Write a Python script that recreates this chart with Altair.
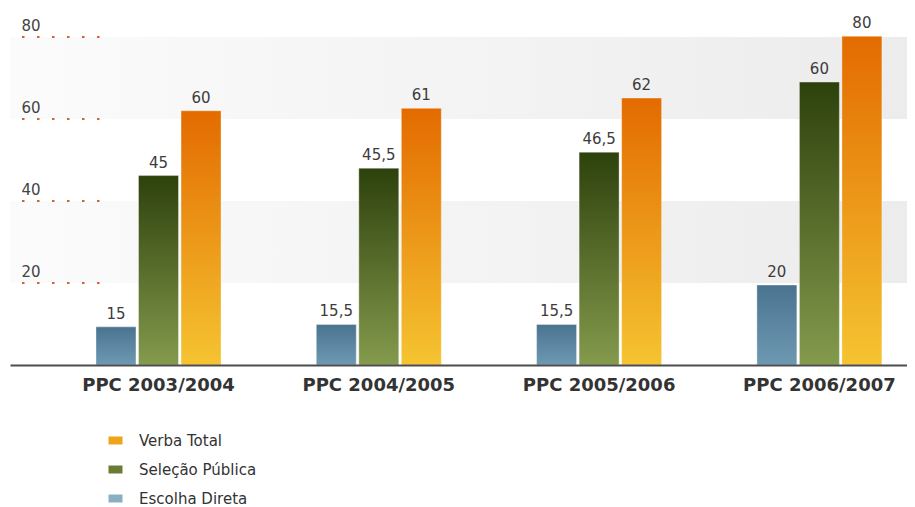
import altair as alt
import pandas as pd

# ---- data -------------------------------------------------------------
periodos = ["PPC 2003/2004", "PPC 2004/2005", "PPC 2005/2006", "PPC 2006/2007"]
series = ["Escolha Direta", "Seleção Pública", "Verba Total"]
legend_order = ["Verba Total", "Seleção Pública", "Escolha Direta"]
legend_colors = ["#f0a418", "#6a7b34", "#8aafc2"]

# heights of the drawn bars (axis units)
escolha_altura = [9.3, 9.9, 9.9, 19.5]
selecao_altura = [46.2, 48.0, 51.9, 69.0]
verba_altura = [62.0, 62.6, 65.1, 80.2]

# value labels printed above the bars
escolha_rotulo = ["15", "15,5", "15,5", "20"]
selecao_rotulo = ["45", "45,5", "46,5", "60"]
verba_rotulo = ["60", "61", "62", "80"]

eixo_y = [20, 40, 60, 80]
faixa_inicio = [20, 60]
faixa_fim = [40, 80]

# ---- tables -------------------------------------------------------------
rows = []
for serie, alturas, rotulos in [
    ("Escolha Direta", escolha_altura, escolha_rotulo),
    ("Seleção Pública", selecao_altura, selecao_rotulo),
    ("Verba Total", verba_altura, verba_rotulo),
]:
    for p, a, r in zip(periodos, alturas, rotulos):
        rows.append({"periodo": p, "serie": serie, "altura": a, "rotulo": r})
df = pd.DataFrame(rows)
bands = pd.DataFrame({"lo": faixa_inicio, "hi": faixa_fim})
ticks = pd.DataFrame({"v": eixo_y})

W, H = 897, 328
FONT = "DejaVu Sans"

yscale = alt.Scale(domain=[0, 80], nice=False, zero=True)
xscale = alt.Scale(domain=periodos, paddingInner=0.4326, paddingOuter=0.2522, align=0.774)
xoff = alt.XOffset("serie:N", scale=alt.Scale(domain=series, paddingInner=0.06, paddingOuter=0))

x_enc = alt.X(
    "periodo:N",
    sort=periodos,
    scale=xscale,
    axis=alt.Axis(
        title=None, labelAngle=0, ticks=False, tickSize=0, grid=False,
        domainColor="#4d4d4d", domainWidth=2,
        labelFont=FONT, labelFontSize=18, labelFontWeight="bold",
        labelColor="#333333", labelPadding=11, zindex=1,
    ),
)
y_axis = alt.Axis(
    values=eixo_y, title=None, grid=False, domain=False, ticks=False,
    tickSize=0, labelAlign="left", labelPadding=-11,
    labelBaseline="alphabetic", labelOffset=-7,
    labelFont=FONT, labelFontSize=15, labelColor="#444444", zindex=2,
)
y_enc = alt.Y("altura:Q", scale=yscale, axis=y_axis)


def vgrad(top, bottom):
    return alt.Gradient(
        gradient="linear", x1=0, y1=0, x2=0, y2=1,
        stops=[alt.GradientStop(color=top, offset=0),
               alt.GradientStop(color=bottom, offset=1)],
    )


band_layer = alt.Chart(bands).mark_rect(
    color=alt.Gradient(
        gradient="linear", x1=0, y1=0, x2=1, y2=0,
        stops=[alt.GradientStop(color="#fbfbfb", offset=0),
               alt.GradientStop(color="#ececec", offset=1)],
    )
).encode(
    y=alt.Y("lo:Q", scale=yscale, axis=y_axis),
    y2="hi:Q",
    x=alt.value(0),
    x2=alt.value(W),
)

rule_layer = alt.Chart(ticks).mark_rule(
    color="#d4622a", strokeDash=[2.5, 12.5], strokeWidth=2
).encode(
    y=alt.Y("v:Q", scale=yscale, axis=y_axis),
    x=alt.value(12),
    x2=alt.value(92),
)

grads = {
    "Escolha Direta": vgrad("#4a7390", "#6e99b2"),
    "Seleção Pública": vgrad("#2d410c", "#849a4c"),
    "Verba Total": vgrad("#e36b00", "#f5c431"),
}

bar_layers = []
for s in series:
    bar_layers.append(
        alt.Chart(df).transform_filter(alt.datum.serie == s).mark_bar(
            color=grads[s], stroke="#ffffff", strokeOpacity=0.35, strokeWidth=1
        ).encode(x=x_enc, xOffset=xoff, y=y_enc)
    )

text_layer = alt.Chart(df).mark_text(
    dy=-8, baseline="alphabetic", font=FONT, fontSize=15, color="#3c3c3c"
).encode(x=x_enc, xOffset=xoff, y=y_enc, text="rotulo:N")

legend_layer = alt.Chart(df).transform_filter("false").mark_point(
    filled=True, opacity=1
).encode(
    x=x_enc,
    y=y_enc,
    color=alt.Color(
        "serie:N",
        scale=alt.Scale(domain=legend_order, range=legend_colors),
        legend=alt.Legend(
            orient="none", legendX=98, legendY=396, title=None,
            symbolType="M-1,-0.57H1V0.57H-1Z", symbolSize=196,
            symbolStrokeWidth=0, symbolOpacity=1,
            labelFont=FONT, labelFontSize=15, labelColor="#333333",
            labelOffset=16, rowPadding=13, padding=0,
        ),
    ),
)

chart = alt.layer(
    band_layer, rule_layer, *bar_layers, text_layer, legend_layer
).properties(
    width=W,
    height=H,
    padding={"left": 2, "top": 29, "right": 0, "bottom": 150},
    autosize=alt.AutoSizeParams(type="none"),
    background="#ffffff",
).configure_view(stroke=None)

chart.save("out.html", embed_options={"renderer": "svg", "actions": False})
